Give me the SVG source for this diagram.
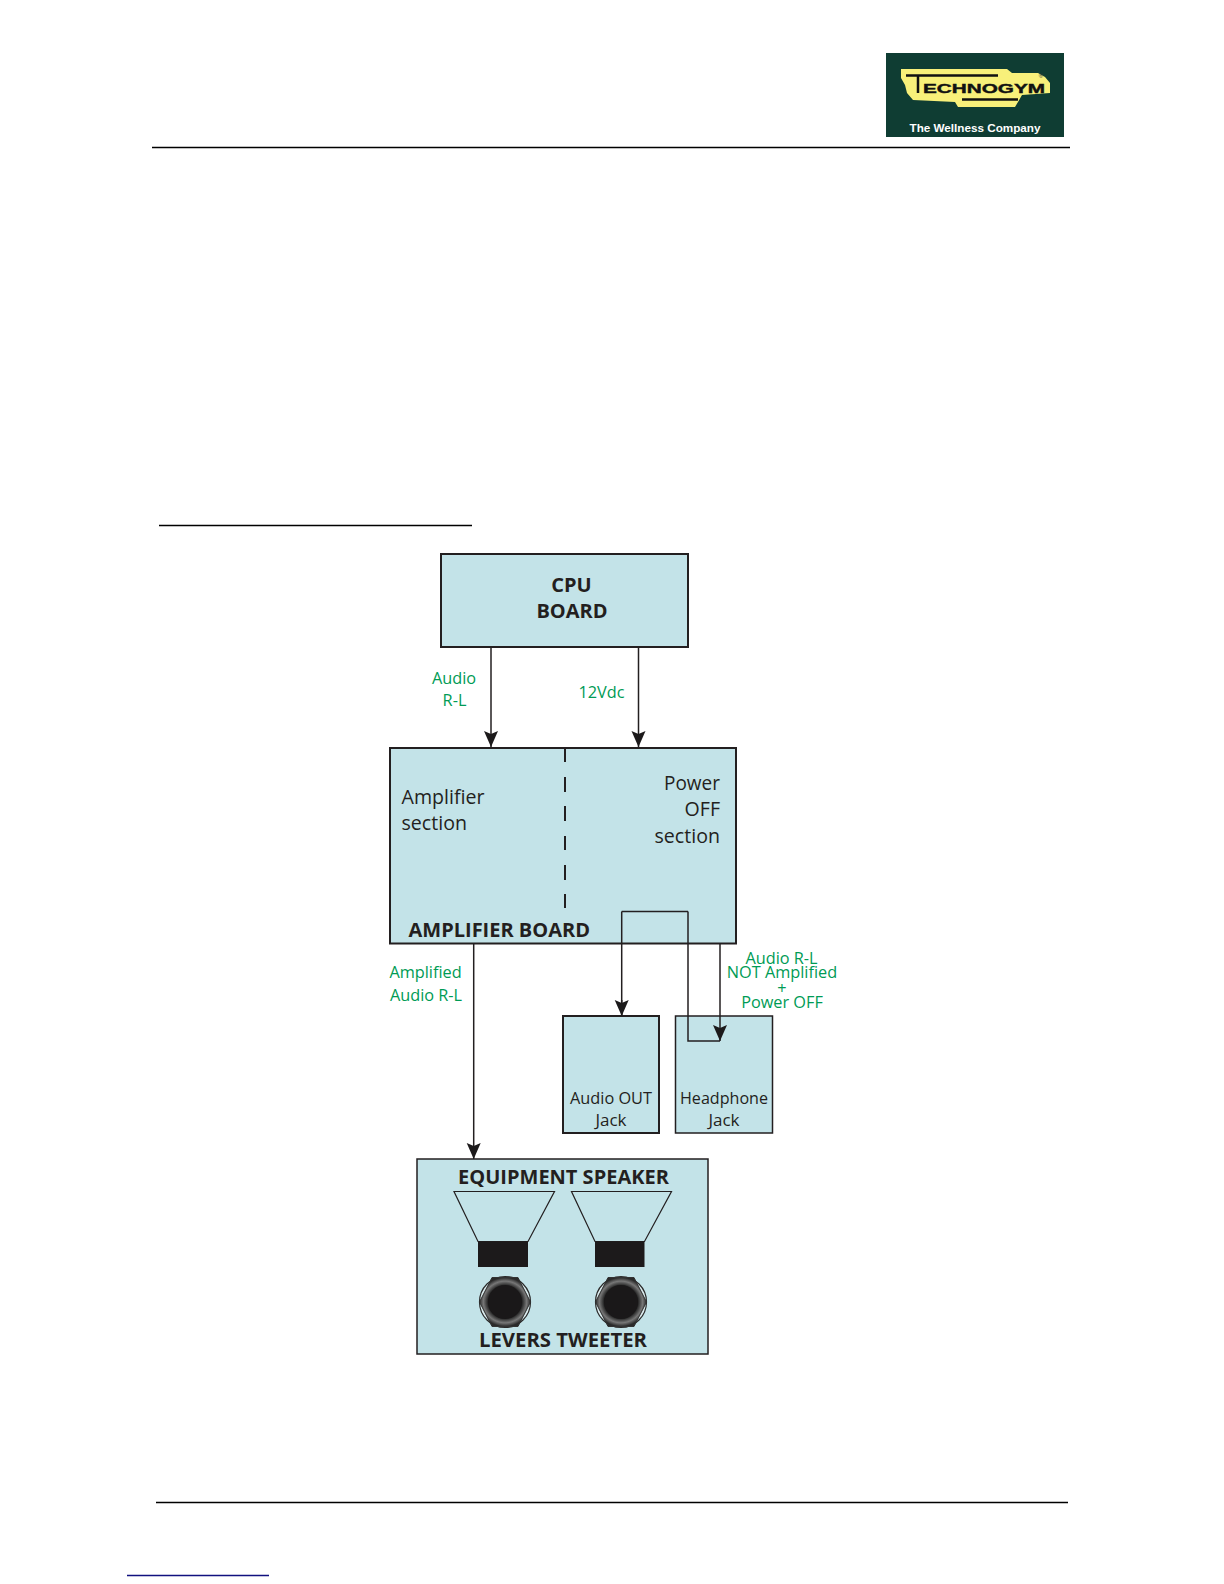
<svg xmlns="http://www.w3.org/2000/svg" width="1224" height="1584" viewBox="0 0 1224 1584">
<style>
.box{fill:#c3e3e8;stroke:#231f20;stroke-width:2}
.thin{stroke-width:1.5}
.t{font-family:"Open Sans","Noto Sans","Liberation Sans",sans-serif;fill:#231f20}
.b{font-weight:700}
.g{font-family:"Open Sans","Noto Sans","Liberation Sans",sans-serif;fill:#009b55;font-size:16.300px;text-anchor:middle}
.m{text-anchor:middle}
.e{text-anchor:end}
.c{fill:none;stroke:#231f20;stroke-width:1.500}
.rule{stroke:#000;stroke-width:1.300;fill:none}
</style>
<defs>
<marker id="a" markerUnits="userSpaceOnUse" markerWidth="17" markerHeight="16" refX="16" refY="8" orient="auto" viewBox="0 0 17 16"><path d="M0 1 L3 8 L0 15 L16 8 Z" fill="#1c1a1b"/></marker>
<radialGradient id="j"><stop offset="0.65" stop-color="#1a1a1a"/><stop offset="0.85" stop-color="#777"/><stop offset="1" stop-color="#2a2a2a"/></radialGradient>
<g id="jack"><circle r="25.500" fill="#dcecee" stroke="#2a2a2a" stroke-width="1.200"/><path d="M-13 -24.500H13L25.500 0 13 24.500H-13L-25.500 0Z" fill="url(#j)" stroke="#333" stroke-width="1"/><circle r="17" fill="#1a1819"/></g>
</defs>
<g id="page-rules">
<path class="rule" d="M152 147.500H1070M159 525.500H472M156 1502.500H1068"/>
<path d="M127 1575.500H269" stroke="#11117f" stroke-width="1.300"/>
</g>
<g id="logo">
<rect x="886" y="53" width="178" height="84" fill="#0f3d33"/>
<path d="M901 69H1007L1012 73H1038L1045 77L1050 83V93L1022 95L1018 102L1015 107H958L955 102L913 100L907 93L905 85L901 78Z" fill="#f8f07a"/>
<path d="M906 75.500H998M918 75.500V93M962 99.500H1018" stroke="#111" stroke-width="2.500" fill="none"/>
<text x="923" y="93" font-family="Liberation Sans,sans-serif" font-weight="700" font-size="13" fill="#111" stroke="#111" stroke-width="0.400" textLength="122" lengthAdjust="spacingAndGlyphs">ECHNOGYM</text>
<text x="1041" y="78" text-anchor="middle" font-family="Liberation Sans,sans-serif" font-size="6" fill="#333">®</text>
<text x="975" y="131.500" text-anchor="middle" font-family="Liberation Sans,sans-serif" font-weight="700" font-size="10.500" fill="#fff" textLength="131" lengthAdjust="spacingAndGlyphs">The Wellness Company</text>
</g>
<g id="connectors">
<path class="c" d="M491 647V747" marker-end="url(#a)"/>
<path class="c" d="M638.500 647V747" marker-end="url(#a)"/>
<path class="c" d="M473.700 943V1159" stroke-width="1.200" marker-end="url(#a)"/>
</g>
<g id="cpu-board"><rect class="box" x="441" y="554" width="247" height="93"/>
<text class="t b m" font-size="20" x="571.500" y="592">CPU</text><text class="t b m" font-size="20" x="572" y="618">BOARD</text></g>
<g id="amplifier-board"><rect class="box" x="390" y="748" width="346" height="195.500"/>
<path d="M565 747.500V762M565 777V792M565 806V821M565 836V850M565 865V880M565 894V908" stroke="#231f20" stroke-width="2" fill="none"/>
<text class="t" font-size="19.600" x="401.500" y="804">Amplifier</text><text class="t" font-size="19.600" x="401.500" y="830">section</text>
<text class="t e" font-size="19.600" x="720" y="790" textLength="56" lengthAdjust="spacingAndGlyphs">Power</text><text class="t e" font-size="19.600" x="720" y="816">OFF</text><text class="t e" font-size="19.600" x="720" y="843">section</text>
<text class="t b" font-size="20" x="408.500" y="936.500">AMPLIFIER BOARD</text></g>
<g id="audio-out-jack"><rect class="box" x="563" y="1016" width="96" height="117"/>
<text class="t m" font-size="17" x="611" y="1104" textLength="82" lengthAdjust="spacingAndGlyphs">Audio OUT</text><text class="t m" font-size="17" x="611" y="1126">Jack</text></g>
<g id="headphone-jack"><rect class="box thin" x="675.500" y="1016" width="97" height="117"/>
<text class="t m" font-size="17" x="724" y="1104" textLength="88" lengthAdjust="spacingAndGlyphs">Headphone</text><text class="t m" font-size="17" x="724" y="1126">Jack</text></g>
<g id="equipment-speaker"><rect class="box thin" x="417" y="1159" width="291" height="195"/>
<text class="t b m" font-size="20" x="563.500" y="1184">EQUIPMENT SPEAKER</text>
<path d="M454 1191.500H554.500L528 1241.500H478Z M571.500 1191.500H671.500L644.500 1241.500H595Z" fill="none" stroke="#231f20" stroke-width="1.200"/>
<rect x="478" y="1241.500" width="50" height="25.500" fill="#1c1a1b"/><rect x="595" y="1241.500" width="49.500" height="25.500" fill="#1c1a1b"/>
<use href="#jack" x="505" y="1302"/><use href="#jack" x="621" y="1302"/>
<text class="t b m" font-size="20" x="563" y="1347" textLength="168" lengthAdjust="spacingAndGlyphs">LEVERS TWEETER</text></g>
<g id="connectors-over">
<path class="c" d="M621.700 1016V911.500" stroke-width="2"/>
<path class="c" d="M621.700 911.500H688" stroke-width="2"/>
<path class="c" d="M688 911.500V1041H720" stroke="#444"/>
<path class="c" d="M621.700 1000V1016" stroke-width="2" marker-end="url(#a)"/>
<path class="c" d="M720 943V1041" stroke-width="1.800" marker-end="url(#a)"/>
</g>
<g id="labels">
<text class="g" x="454" y="684">Audio</text><text class="g" x="454.500" y="706">R-L</text>
<text class="g" x="601.500" y="698">12Vdc</text>
<text class="g" x="425.500" y="978">Amplified</text><text class="g" x="426" y="1001">Audio R-L</text>
<text class="g" x="781.500" y="964">Audio R-L</text><text class="g" x="782" y="978">NOT Amplified</text><text class="g" x="782" y="994">+</text><text class="g" x="782" y="1008">Power OFF</text>
</g>
</svg>
